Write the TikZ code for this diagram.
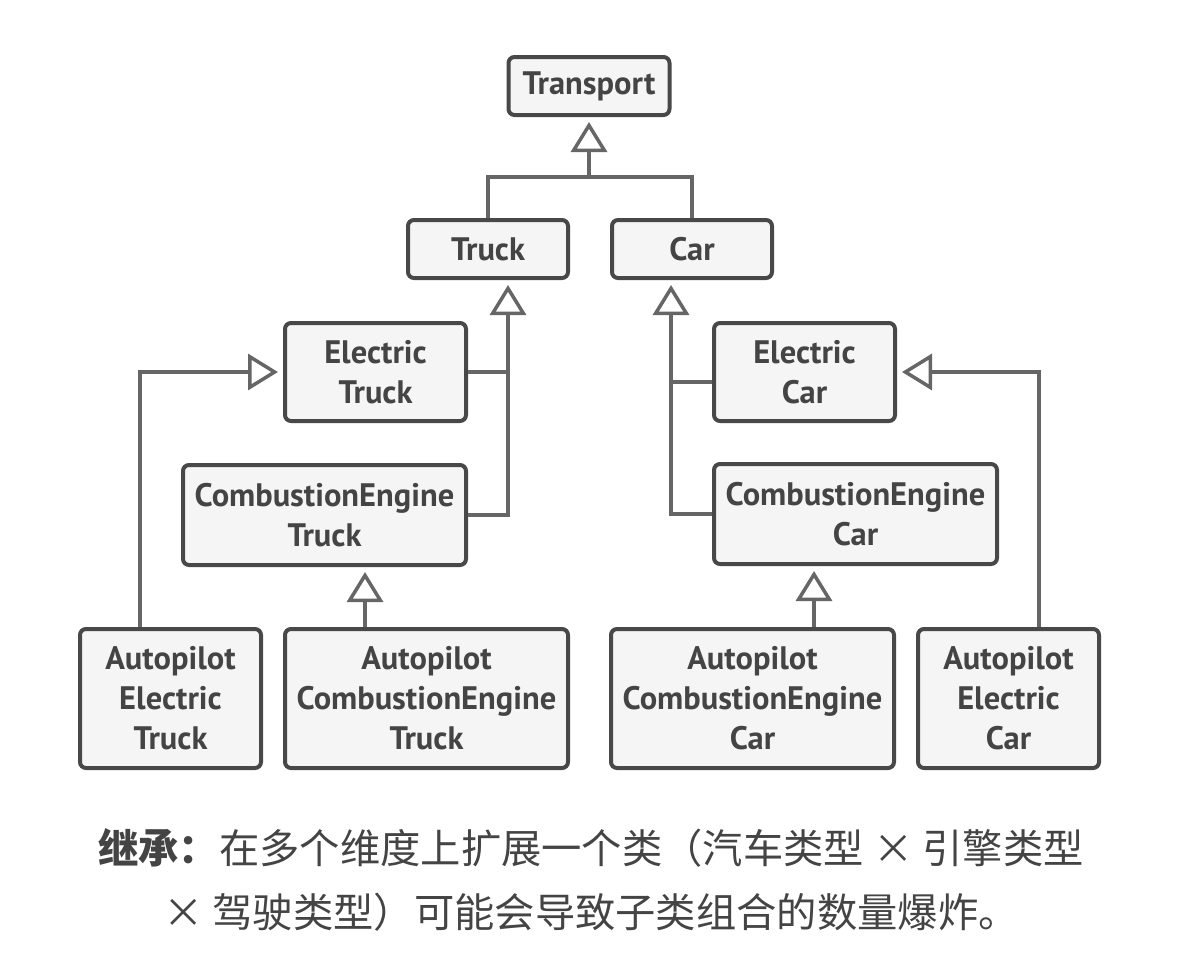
\documentclass[tikz,border=0pt]{standalone}
\usepackage{fontspec}
\setmainfont{PT Sans}
\newfontfamily\cjk{Noto Sans CJK SC}
\usetikzlibrary{arrows.meta}
\definecolor{boxline}{HTML}{484848}
\definecolor{boxfill}{HTML}{F5F5F5}
\definecolor{linkgray}{HTML}{666666}
\definecolor{txtgray}{HTML}{444444}
\tikzset{
  cls/.style={draw=boxline, fill=boxfill, line width=4pt, rounded corners=6pt,
    align=center, text=txtgray, font=\fontsize{32.5}{40}\selectfont\bfseries,
    inner sep=0pt},
  link/.style={draw=linkgray, line width=3.5pt},
  inherit/.style={link, -{Triangle[open, length=30pt, width=36pt]}, shorten >=5pt}
}

\begin{document}
\begin{tikzpicture}[x=1pt, y=-1pt]
        \useasboundingbox (0,0) rectangle (1184,978);

        % Top level
        \node[cls, minimum width=161, minimum height=58] (transport) at (589,86) {Transport};

        % Vehicle types
        \node[cls, minimum width=160, minimum height=58] (truck) at (488,249) {Truck};
        \node[cls, minimum width=160, minimum height=58] (car) at (692,249) {Car};

        % Engine types
        \node[cls, minimum width=181, minimum height=98] (etruck) at (375.5,372) {Electric\\Truck};
        \node[cls, minimum width=283, minimum height=100] (cetruck) at (324.5,515) {CombustionEngine\\Truck};
        \node[cls, minimum width=181, minimum height=98] (ecar) at (804.5,372) {Electric\\Car};
        \node[cls, minimum width=283, minimum height=100] (cecar) at (855.5,514) {CombustionEngine\\Car};

        % Autopilot variants
        \node[cls, minimum width=181, minimum height=139] (aetruck) at (170.5,698.5) {Autopilot\\Electric\\Truck};
        \node[cls, minimum width=283, minimum height=139] (acetruck) at (426.5,698.5) {Autopilot\\CombustionEngine\\Truck};
        \node[cls, minimum width=283, minimum height=139] (acecar) at (752.5,698.5) {Autopilot\\CombustionEngine\\Car};
        \node[cls, minimum width=181, minimum height=139] (aecar) at (1008.5,698.5) {Autopilot\\Electric\\Car};

        % Helper points for the shared stems
        \coordinate (tbar) at (589,177);
        \coordinate (tstem) at ([xshift=20pt]truck.south);
        \coordinate (cstem) at ([xshift=-21pt]car.south);
        \coordinate (cetin) at ([xshift=40.5pt]cetruck.south);
        \coordinate (cecin) at ([xshift=-41.5pt]cecar.south);

        % Transport
        \draw[link] (truck.north) |- (tbar) -| (car.north);
        \draw[inherit] (tbar) -- (transport.south);

        % Truck branch
        \draw[link] (etruck.east) -- (etruck.east -| tstem);
        \draw[inherit] (cetruck.east) -| (tstem);
        \draw[inherit] (acetruck.north -| cetin) -- (cetin);
        \draw[inherit] ([xshift=-30.5pt]aetruck.north) |- (etruck.west);

        % Car branch
        \draw[link] ([yshift=-10pt]ecar.west) -- ([yshift=-10pt]ecar.west -| cstem);
        \draw[inherit] (cecar.west) -| (cstem);
        \draw[inherit] (acecar.north -| cecin) -- (cecin);
        \draw[inherit] ([xshift=30.5pt]aecar.north) |- (ecar.east);

        % Caption
        \node[align=center, text=txtgray, font=\cjk\fontsize{40.3}{64}\selectfont] (caption) at (591,880)
          {{\bfseries 继承：}在多个维度上扩展一个类（汽车类型 × 引擎类型\\× 驾驶类型）可能会导致子类组合的数量爆炸。};
    \end{tikzpicture}
\end{document}
